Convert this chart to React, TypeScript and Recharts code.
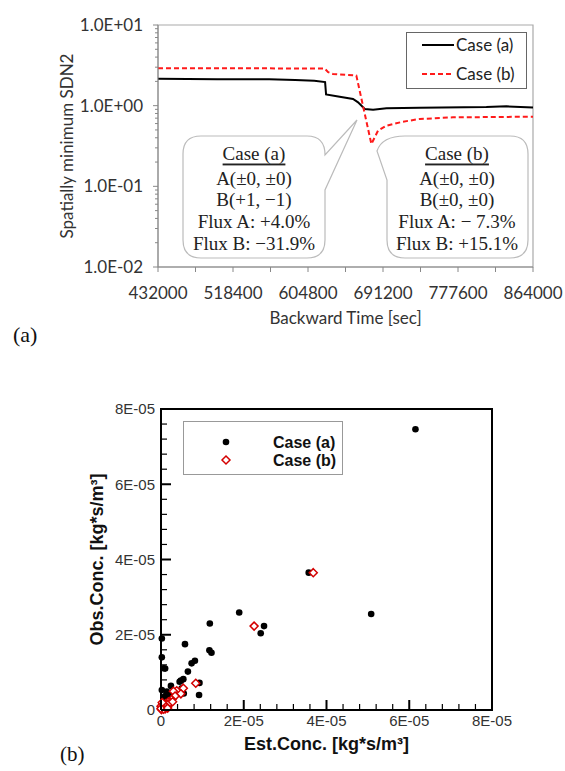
import React from 'react';
import {
  LineChart,
  Line,
  ScatterChart,
  Scatter,
  XAxis,
  YAxis,
  ReferenceArea,
  Legend,
} from 'recharts';

// (a) spatially minimum SDN2 vs backward time
const caseATime = [432000, 500000, 560000, 590000, 612000, 624500, 625600, 641300, 656700, 662500, 670200, 679800, 695200, 733500, 810300, 833400, 864000];
const caseAValue = [2.15, 2.13, 2.12, 2.08, 2.03, 1.96, 1.38, 1.29, 1.21, 1.1, 0.91, 0.89, 0.93, 0.94, 0.96, 0.98, 0.95];
const caseBTime = [432000, 560000, 624000, 628000, 633600, 660500, 677800, 685500, 695100, 714200, 733500, 771800, 864000];
const caseBValue = [2.92, 2.9, 2.88, 2.6, 2.47, 2.36, 0.335, 0.49, 0.565, 0.633, 0.684, 0.716, 0.73];

const timeTicks = [432000, 475200, 518400, 561600, 604800, 648000, 691200, 734400, 777600, 820800, 864000];
const timeLabels = ['432000', '', '518400', '', '604800', '', '691200', '', '777600', '', '864000'];
const sdnMajor = [0.01, 0.1, 1, 10];
const sdnMajorLabels = ['1.0E-02', '1.0E-01', '1.0E+00', '1.0E+01'];
const sdnMinor = [0.02, 0.03, 0.04, 0.05, 0.06, 0.07, 0.08, 0.09, 0.2, 0.3, 0.4, 0.5, 0.6, 0.7, 0.8, 0.9, 2, 3, 4, 5, 6, 7, 8, 9];

// (b) observed vs estimated concentration, values in units of 1E-05 kg*s/m3
const caseAEst = [6.15, 3.57, 5.08, 1.89, 2.49, 2.41, 1.18, 1.17, 1.22, 0.58, 0.02, 0.02, 0.06, 0.1, 0.82, 0.74, 0.65, 0.54, 0.48, 0.45, 0.93, 0.92, 0.24, 0.02, 0.14, 0.1, 0.5, 0.55, 0.06, 0.24, 0.38, 0.06, 0.02, 0.16, 0.2, 0.3, 0.12, 0.05, 0.18, 0.08];
const caseAObs = [7.46, 3.65, 2.55, 2.59, 2.23, 2.04, 2.3, 1.59, 1.52, 1.75, 1.9, 1.4, 1.11, 1.1, 1.31, 1.24, 1.02, 0.82, 0.78, 0.75, 0.72, 0.4, 0.64, 0.53, 0.49, 0.37, 0.58, 0.44, 0.27, 0.27, 0.44, 0.07, 0.16, 0.4, 0.45, 0.33, 0.2, 0.1, 0.12, 0.03];
const caseBEst = [3.68, 2.25, 0.84, 0.54, 0.38, 0.3, 0.48, 0.34, 0.26, 0.18, 0.12, 0.08, 0.02, 0.1, 0.01, 0.05, 0.15, 0.2, 0.04, 0.0, 0.22, 0.28, 0.12, 0.06, 0.03, 0.0, 0.16];
const caseBObs = [3.65, 2.23, 0.71, 0.58, 0.51, 0.5, 0.43, 0.37, 0.28, 0.22, 0.17, 0.12, 0.07, 0.03, 0.01, 0.05, 0.1, 0.15, 0.15, 0.1, 0.2, 0.22, 0.08, 0.02, 0.2, 0.04, 0.05];

const concTicks = [0, 0.4, 0.8, 1.2, 1.6, 2, 2.4, 2.8, 3.2, 3.6, 4, 4.4, 4.8, 5.2, 5.6, 6, 6.4, 6.8, 7.2, 7.6, 8];
const concLabels = ['0', '2E-05', '4E-05', '6E-05', '8E-05'];

const caseAData = caseATime.map((t, i) => ({ t, v: caseAValue[i] }));
const caseBData = caseBTime.map((t, i) => ({ t, v: caseBValue[i] }));
const scatterA = caseAEst.map((x, i) => ({ x, y: caseAObs[i] }));
const scatterB = caseBEst.map((x, i) => ({ x, y: caseBObs[i] }));

const SANS = 'Lato';
const ARIAL = '"Liberation Sans", Arial, sans-serif';
const SERIF = '"Liberation Serif", "Times New Roman", serif';

// log axis: labels on decades only, shorter ticks for the minors
function SdnTick(props: any) {
  const { x, y, payload } = props;
  const ax = x + 9;
  const k = sdnMajor.indexOf(payload.value);
  return (
    <g>
      <line x1={ax} x2={ax - (k >= 0 ? 5 : 3)} y1={y} y2={y} stroke="#888" />
      {k >= 0 && (
        <text x={ax - 15} y={y} dy="0.36em" textAnchor="end" fill="#333" fontSize={17} fontFamily={SANS}>
          {sdnMajorLabels[k]}
        </text>
      )}
    </g>
  );
}

// ticks pointing into the plot
function ConcTickX(props: any) {
  const { x, y, payload } = props;
  const i = concTicks.indexOf(payload.value);
  const major = i % 5 === 0;
  return (
    <g>
      <line x1={x} x2={x} y1={y} y2={y - (major ? 10 : 6)} stroke="#000" strokeWidth={major ? 2 : 1.2} />
      {major && (
        <text x={x} y={y + 11} dy="0.36em" textAnchor="middle" fill="#333" fontSize={15} fontFamily={ARIAL}>
          {concLabels[i / 5]}
        </text>
      )}
    </g>
  );
}

function ConcTickY(props: any) {
  const { x, y, payload } = props;
  const i = concTicks.indexOf(payload.value);
  const major = i % 5 === 0;
  return (
    <g>
      <line x1={x} x2={x + (major ? 10 : 6)} y1={y} y2={y} stroke="#000" strokeWidth={major ? 2 : 1.2} />
      {major && (
        <text x={x - 6} y={y} dy="0.36em" textAnchor="end" fill="#333" fontSize={15} fontFamily={ARIAL}>
          {concLabels[i / 5]}
        </text>
      )}
    </g>
  );
}

const dot = (p: any) => <circle cx={p.cx} cy={p.cy} r={3.3} fill="#000" />;
const diamond = (p: any) => (
  <path
    d={`M${p.cx},${p.cy - 4}L${p.cx + 4},${p.cy}L${p.cx},${p.cy + 4}L${p.cx - 4},${p.cy}Z`}
    fill="#fff"
    stroke="#d40000"
    strokeWidth={1.5}
  />
);

const LineLegend = () => (
  <div style={{ width: 121, height: 57, border: '1.5px solid #666', background: '#fff', boxSizing: 'border-box' }}>
    <svg width={118} height={54}>
      <line x1={15} x2={47} y1={12} y2={12} stroke="#000" strokeWidth={2} />
      <text x={49} y={12} dy="0.36em" fontSize={17} fontFamily={SANS} fill="#222">Case (a)</text>
      <line x1={15} x2={47} y1={41} y2={41} stroke="#ff1a1a" strokeWidth={2} strokeDasharray="5 3" />
      <text x={49} y={41} dy="0.36em" fontSize={17} fontFamily={SANS} fill="#222">Case (b)</text>
    </svg>
  </div>
);

const ScatterLegend = () => (
  <div style={{ width: 160, height: 54, border: '1px solid #999', background: '#fff', boxSizing: 'border-box' }}>
    <svg width={158} height={52}>
      <circle cx={42} cy={20} r={3.3} fill="#000" />
      <text x={89} y={20} dy="0.36em" fontSize={16} fontWeight="bold" fontFamily={ARIAL} fill="#111">Case (a)</text>
      <path d="M42,34L46,38L42,42L38,38Z" fill="#fff" stroke="#d40000" strokeWidth={1.5} />
      <text x={89} y={38} dy="0.36em" fontSize={16} fontWeight="bold" fontFamily={ARIAL} fill="#111">Case (b)</text>
    </svg>
  </div>
);

const calloutText = { fontFamily: SERIF, fontSize: 19, fill: '#222', textAnchor: 'middle' as const };

function Callouts() {
  const rows = [178, 199.5, 221.5, 243];
  const left = ['A(±0, ±0)', 'B(+1, −1)', 'Flux A: +4.0%', 'Flux B: −31.9%'];
  const right = ['A(±0, ±0)', 'B(±0, ±0)', 'Flux A: − 7.3%', 'Flux B: +15.1%'];
  return (
    <svg width={565} height={340} style={{ position: 'absolute', left: 0, top: 0, pointerEvents: 'none' }}>
      <path
        d="M201,136 H307 Q325,136 325,155 L357,120 L325,190 V240 Q325,258 307,258 H201 Q183,258 183,240 V154 Q183,136 201,136 Z"
        fill="#fff"
        stroke="#bbb"
        strokeWidth={1.2}
      />
      <path
        d="M405,136 H510 Q528,136 528,154 V240 Q528,258 510,258 H405 Q387,258 387,240 V180 L377,151 Q382,136 405,136 Z"
        fill="#fff"
        stroke="#bbb"
        strokeWidth={1.2}
      />
      <text x={254} y={153} dominantBaseline="central" textDecoration="underline" {...calloutText}>Case (a)</text>
      <text x={457} y={153} dominantBaseline="central" textDecoration="underline" {...calloutText}>Case (b)</text>
      {rows.map((y, i) => (
        <text key={`l${i}`} x={254} y={y} dominantBaseline="central" {...calloutText}>{left[i]}</text>
      ))}
      {rows.map((y, i) => (
        <text key={`r${i}`} x={457} y={y} dominantBaseline="central" {...calloutText}>{right[i]}</text>
      ))}
    </svg>
  );
}

export default function App() {
  return (
    <div style={{ position: 'absolute', left: 0, top: 0, width: 565, height: 771, background: '#fff', overflow: 'hidden' }}>
      <div style={{ position: 'absolute', left: 0, top: 0 }}>
        <LineChart width={565} height={340} margin={{ top: 25, right: 32, bottom: 13, left: 0 }}>
          <XAxis
            type="number"
            dataKey="t"
            domain={[432000, 864000]}
            ticks={timeTicks}
            interval={0}
            tickFormatter={(v: number) => timeLabels[timeTicks.indexOf(v)]}
            stroke="#888"
            tickSize={5}
            tickMargin={15}
            tick={{ fill: '#333', fontSize: 17, fontFamily: SANS }}
            height={60}
            allowDuplicatedCategory={false}
            label={{ value: 'Backward Time [sec]', position: 'insideBottom', offset: 3, style: { fill: '#333', fontSize: 17, fontFamily: SANS } }}
          />
          <YAxis
            type="number"
            scale="log"
            domain={[0.01, 10]}
            allowDataOverflow
            ticks={[...sdnMajor, ...sdnMinor]}
            interval={0}
            tick={<SdnTick />}
            tickLine={false}
            tickSize={5}
            tickMargin={4}
            stroke="#888"
            width={158}
            label={{
              value: 'Spatially minimum SDN2',
              angle: -90,
              position: 'insideLeft',
              offset: 67,
              style: { textAnchor: 'middle', fill: '#333', fontSize: 17, fontFamily: SANS },
            }}
          />
          <ReferenceArea x1={432000} x2={864000} y1={0.01} y2={10} fill="none" stroke="#aaa" strokeWidth={1.2} />
          <Legend
            layout="vertical"
            align="center"
            verticalAlign="middle"
            content={<LineLegend />}
            wrapperStyle={{ left: 406, top: 32, width: 121, height: 57 }}
          />
          <Line data={caseAData} dataKey="v" name="Case (a)" type="linear" stroke="#000" strokeWidth={2} dot={false} isAnimationActive={false} />
          <Line data={caseBData} dataKey="v" name="Case (b)" type="linear" stroke="#ff1a1a" strokeWidth={2} strokeDasharray="5 3" dot={false} isAnimationActive={false} />
        </LineChart>
        <Callouts />
      </div>
      <div style={{ position: 'absolute', left: 13, top: 324, fontFamily: SERIF, fontSize: 22, lineHeight: '22px', color: '#111' }}>(a)</div>

      <div style={{ position: 'absolute', left: 0, top: 380 }}>
        <ScatterChart width={565} height={391} margin={{ top: 29, right: 73, bottom: 11, left: 0 }}>
          <XAxis
            type="number"
            dataKey="x"
            domain={[0, 8]}
            ticks={concTicks}
            interval={0}
            tick={<ConcTickX />}
            tickLine={false}
            tickSize={0}
            tickMargin={0}
            axisLine={{ stroke: '#000', strokeWidth: 2 }}
            height={50}
            label={{ value: 'Est.Conc. [kg*s/m³]', position: 'insideBottom', offset: 10, style: { fill: '#111', fontSize: 18, fontWeight: 'bold', fontFamily: ARIAL } }}
          />
          <YAxis
            type="number"
            dataKey="y"
            domain={[0, 8]}
            ticks={concTicks}
            interval={0}
            tick={<ConcTickY />}
            tickLine={false}
            tickSize={0}
            tickMargin={0}
            axisLine={{ stroke: '#000', strokeWidth: 2 }}
            width={161}
            label={{
              value: 'Obs.Conc. [kg*s/m³]',
              angle: -90,
              position: 'insideLeft',
              offset: 97,
              style: { textAnchor: 'middle', fill: '#111', fontSize: 18, fontWeight: 'bold', fontFamily: ARIAL },
            }}
          />
          <ReferenceArea x1={0} x2={8} y1={0} y2={8} fill="none" stroke="#000" strokeWidth={2} />
          <Legend
            layout="vertical"
            align="center"
            verticalAlign="middle"
            content={<ScatterLegend />}
            wrapperStyle={{ left: 183, top: 41, width: 160, height: 54 }}
          />
          <Scatter data={scatterA} name="Case (a)" shape={dot} isAnimationActive={false} />
          <Scatter data={scatterB} name="Case (b)" shape={diamond} isAnimationActive={false} />
        </ScatterChart>
      </div>
      <div style={{ position: 'absolute', left: 60, top: 744, fontFamily: SERIF, fontSize: 21, lineHeight: '21px', color: '#111' }}>(b)</div>
    </div>
  );
}
